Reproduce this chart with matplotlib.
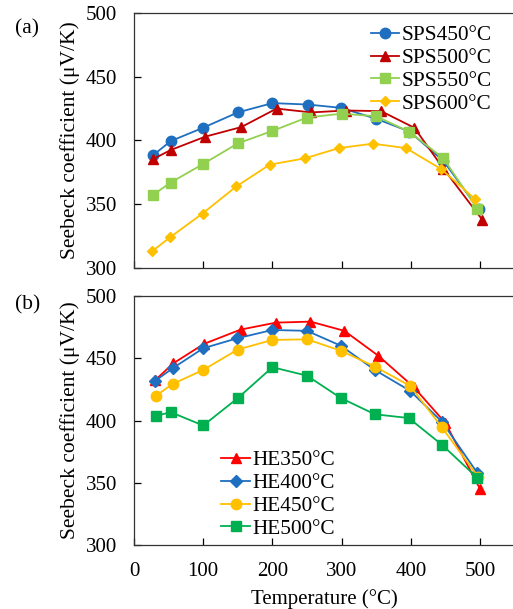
"""Seebeck coefficient vs temperature for SPS- and HE-processed samples."""

import matplotlib
matplotlib.use('Agg')
import matplotlib.pyplot as plt

plt.rcParams['font.family'] = ['Liberation Serif', 'DejaVu Serif']

# (a) spark plasma sintered samples
T_SPS450 = [28, 53, 100, 150, 200, 251, 299, 350, 398, 447, 498]
S_SPS450 = [388.6, 399.5, 410.0, 422.0, 429.3, 428.2, 425.6, 417.0, 407.0, 384.0, 346.0]
T_SPS500 = [28, 53, 103, 155, 206, 256, 306, 357, 405, 447, 503]
S_SPS500 = [385.5, 392.5, 403.0, 410.5, 425.0, 422.0, 423.5, 423.0, 410.0, 378.0, 338.0]
T_SPS550 = [28, 53, 100, 150, 200, 250, 300, 350, 398, 447, 496]
S_SPS550 = [357.5, 367.0, 381.6, 397.7, 407.5, 418.0, 421.0, 419.0, 406.7, 386.0, 346.6]
T_SPS600 = [26, 52, 99, 148, 196, 247, 296, 345, 393, 444, 493]
S_SPS600 = [313.0, 324.0, 342.7, 364.0, 381.0, 386.0, 394.0, 397.5, 394.0, 377.5, 354.0]

# (b) hot extruded samples
T_HE350 = [31, 57, 101, 154, 205, 255, 304, 353, 404, 450, 500]
S_HE350 = [432.6, 446.0, 461.5, 473.0, 478.6, 479.4, 472.0, 452.0, 427.0, 398.0, 345.0]
T_HE400 = [31, 56, 100, 149, 200, 250, 299, 348, 399, 445, 496]
S_HE400 = [432.0, 442.0, 458.0, 466.0, 472.7, 472.0, 460.0, 440.6, 423.8, 399.0, 358.0]
T_HE450 = [32, 56, 100, 150, 200, 250, 299, 348, 399, 445, 497]
S_HE450 = [420.0, 429.4, 440.6, 457.0, 464.7, 465.2, 456.0, 443.3, 427.8, 394.4, 355.0]
T_HE500 = [32, 53, 100, 150, 200, 250, 299, 348, 397, 445, 496]
S_HE500 = [403.7, 406.7, 396.0, 418.0, 442.8, 436.0, 418.0, 405.0, 402.0, 380.5, 354.0]

Y_TICKS = [300, 350, 400, 450, 500]
X_TICKS = [0, 100, 200, 300, 400, 500]

COLORS = {
    "blue": "#1F6FC0",
    "darkred": "#C00000",
    "lightgreen": "#92D050",
    "yellow": "#FFC000",
    "red": "#FF0000",
    "green": "#00B050",
}

TICK_SIZE = 15
YLABEL_SIZE = 15.5
XLABEL_SIZE = 15
LEGEND_SIZE = 15.3
PANEL_SIZE = 15.5

fig = plt.figure(figsize=(5.13, 6.09), dpi=100)
ax_a = fig.add_axes([0.2612, 0.560, 0.742, 0.4187])
ax_b = fig.add_axes([0.2612, 0.105, 0.742, 0.409])

line_kw = dict(linewidth=1.3, markersize=7.5)

ax_a.plot(T_SPS450, S_SPS450, marker='o', color=COLORS["blue"], label='SPS450°C', **line_kw)
ax_a.plot(T_SPS500, S_SPS500, marker='^', color=COLORS["darkred"], label='SPS500°C', **line_kw)
ax_a.plot(T_SPS550, S_SPS550, marker='s', color=COLORS["lightgreen"], label='SPS550°C', **line_kw)
ax_a.plot(T_SPS600, S_SPS600, marker='D', color=COLORS["yellow"], label='SPS600°C',
          linewidth=1.3, markersize=5.5)

ax_b.plot(T_HE350, S_HE350, marker='^', color=COLORS["red"], label='HE350°C', **line_kw)
ax_b.plot(T_HE400, S_HE400, marker='D', color=COLORS["blue"], label='HE400°C',
          linewidth=1.3, markersize=6)
ax_b.plot(T_HE450, S_HE450, marker='o', color=COLORS["yellow"], label='HE450°C', **line_kw)
ax_b.plot(T_HE500, S_HE500, marker='s', color=COLORS["green"], label='HE500°C', **line_kw)

for ax in (ax_a, ax_b):
    ax.set_xlim(0, 550)
    ax.set_ylim(300, 500)
    ax.set_xticks(X_TICKS)
    ax.set_yticks(Y_TICKS)
    ax.tick_params(direction='in', length=5, width=0.9, labelsize=TICK_SIZE, colors='black')
    ax.tick_params(axis='y', pad=12)
    ax.tick_params(axis='x', pad=12)
    for spine in ax.spines.values():
        spine.set_linewidth(0.9)
        spine.set_color('#333333')
    ax.set_ylabel('Seebeck coefficient (μV/K)', fontsize=YLABEL_SIZE, labelpad=4)

ax_a.tick_params(axis='x', labelbottom=False)
ax_b.set_xlabel('Temperature (°C)', fontsize=XLABEL_SIZE, labelpad=6)

leg_kw = dict(frameon=False, fontsize=LEGEND_SIZE, handlelength=1.35,
              handletextpad=0.12, labelspacing=0.14, borderpad=0.2)
ax_a.legend(loc='upper right', bbox_to_anchor=(0.98, 1.01), **leg_kw)
ax_b.legend(loc='lower left', bbox_to_anchor=(0.19, -0.035), **leg_kw)

fig.text(0.029, 0.952, '(a)', fontsize=PANEL_SIZE, ha='left', va='center')
fig.text(0.029, 0.499, '(b)', fontsize=PANEL_SIZE, ha='left', va='center')

fig.savefig('out.png', dpi=100, facecolor='white')
